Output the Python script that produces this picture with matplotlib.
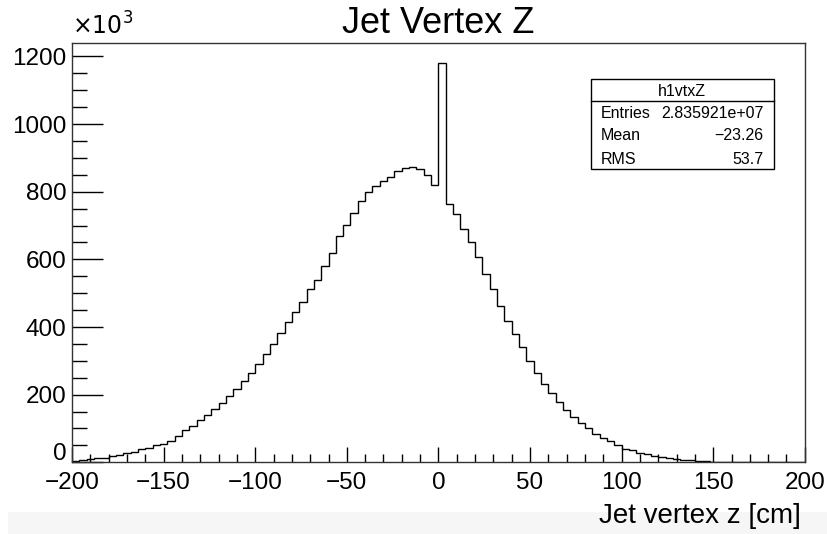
import matplotlib
matplotlib.use('Agg')
import matplotlib.pyplot as plt
import numpy as np
from matplotlib.ticker import MultipleLocator, FuncFormatter
from matplotlib.patches import Rectangle

plt.rcParams['font.family'] = ['Liberation Sans', 'DejaVu Sans']

# histogram h1vtxZ: 100 bins of 4 cm from -200 to 200, contents in thousands
edges = np.linspace(-200, 200, 101)
counts_k = [5, 8, 10, 12, 14, 18, 22, 26, 31, 38, 43, 50, 55, 63,
            79, 96, 108, 124, 139, 157,
            175, 196, 218, 241,
            264, 291, 321, 351, 383, 414, 443, 475, 511, 540, 580, 619, 669,
            702, 738, 772, 799, 817, 831, 844, 860, 870, 874, 866, 849, 819,
            1180,
            765, 733, 690, 651, 606, 557, 511, 463, 418, 378, 340, 299, 265, 231,
            206, 179, 155, 133, 116, 100, 85, 71,
            63, 52, 40, 35.5, 28.5, 23.7, 18.7, 14.8, 11.9, 9.9, 7.9, 5.9, 4, 2.5,
            2, 1.6, 1.3, 1.1, 0.9, 0.8, 0.7, 0.6, 0.5, 0.5, 0.4, 0.4, 0.3]

hist_name = 'h1vtxZ'
stat_names = ['Entries', 'Mean', 'RMS']
stat_values = ['2.835921e+07', '\u221223.26', '53.7']

fig = plt.figure(figsize=(8.28, 5.34), dpi=100)
ax = fig.add_axes([0.087, 0.1343, 0.885, 0.7847])

ax.stairs(counts_k, edges, color='black', linewidth=1.0)

ax.set_xlim(-200, 200)
ax.set_ylim(0, max(counts_k) * 1.05)

ax.xaxis.set_major_locator(MultipleLocator(50))
ax.xaxis.set_minor_locator(MultipleLocator(10))
ax.yaxis.set_major_locator(MultipleLocator(200))
ax.yaxis.set_minor_locator(MultipleLocator(50))
ax.tick_params(axis='x', which='major', direction='in', length=11, width=1, labelsize=17.5, pad=7)
ax.tick_params(axis='x', which='minor', direction='in', length=5.5, width=1)
ax.tick_params(axis='y', which='major', direction='in', length=22, width=1, labelsize=17.5, pad=4)
ax.tick_params(axis='y', which='minor', direction='in', length=10.5, width=1)
ax.xaxis.set_major_formatter(FuncFormatter(lambda v, p: f'{int(round(v))}'.replace('-', '\u2212')))
# ROOT lifts the "0" of the y axis a little, so draw it separately
ax.yaxis.set_major_formatter(FuncFormatter(lambda v, p: '' if v == 0 else f'{int(round(v))}'))
ax.annotate('0', xy=(0, 0), xycoords=('axes fraction', 'data'), xytext=(-4, 6),
            textcoords='offset points', ha='right', va='center', fontsize=17.5)
for s in ax.spines.values():
    s.set_linewidth(1)
    s.set_color('#333333')

fig.text(0.529, 0.956, 'Jet Vertex Z', ha='center', va='center', fontsize=26)
fig.text(0.087, 0.925, r'$\times10^{3}$', ha='left', va='bottom', fontsize=17)

# light grey band at the bottom of the canvas
fig.patches.append(Rectangle((0.01, 0.0), 0.99, 0.041, transform=fig.transFigure,
                             facecolor='#f6f6f6', edgecolor='none', zorder=0))
fig.text(0.967, 0.034, 'Jet vertex z [cm]', ha='right', va='center', fontsize=20)

# stats box
bx0, bx1 = 590.7 / 828, 774 / 828
by_top, by_bot = 1 - 79 / 534, 1 - 169 / 534
by_sep = 1 - 100.7 / 534
fig.patches.append(Rectangle((bx0, by_bot), bx1 - bx0, by_top - by_bot, transform=fig.transFigure,
                             facecolor='white', edgecolor='black', linewidth=1, zorder=5))
fig.lines.append(plt.Line2D([bx0, bx1], [by_sep, by_sep], transform=fig.transFigure,
                            color='black', linewidth=1, zorder=6))
fig.text((bx0 + bx1) / 2, 1 - 91 / 534, hist_name, ha='center', va='center', fontsize=11.5, zorder=7)
row_y = [113.3, 136, 159]
for name, val, y in zip(stat_names, stat_values, row_y):
    fig.text(600.7 / 828, 1 - y / 534, name, ha='left', va='center', fontsize=11.5, zorder=7)
    fig.text(763.3 / 828, 1 - y / 534, val, ha='right', va='center', fontsize=11.5, zorder=7)

fig.savefig('out.png', dpi=100)
